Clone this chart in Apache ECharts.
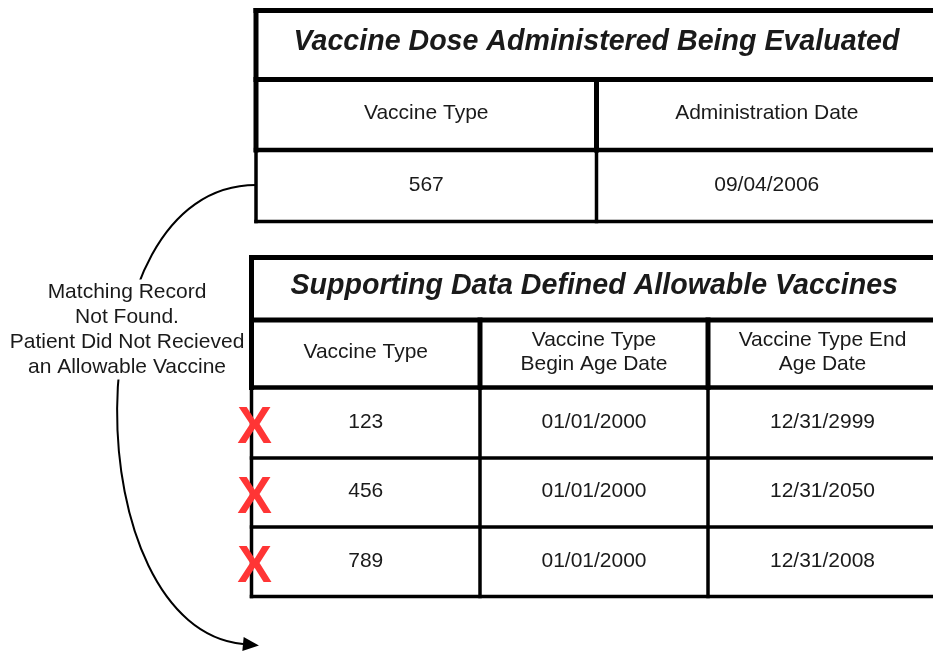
<!DOCTYPE html>
<html>
<head>
<meta charset="utf-8">
<title>Vaccine Dose Evaluation</title>
<script src="https://cdn.jsdelivr.net/npm/echarts@6/dist/echarts.min.js"></script>
<style>
html, body { margin: 0; padding: 0; background: #fff; }
#main { width: 933px; height: 652px; }
</style>
</head>
<body>
<div id="main"></div>
<script>
// ---- table contents ----
var doseTitle = 'Vaccine Dose Administered Being Evaluated';
var doseHeaders = ['Vaccine Type', 'Administration Date'];
var doseValues = ['567', '09/04/2006'];

var allowTitle = 'Supporting Data Defined Allowable Vaccines';
var allowHeaders = ['Vaccine Type', 'Vaccine Type\nBegin Age Date', 'Vaccine Type End\nAge Date'];
var vaccineTypes = ['123', '456', '789'];
var beginDates = ['01/01/2000', '01/01/2000', '01/01/2000'];
var endDates = ['12/31/2999', '12/31/2050', '12/31/2008'];
var matched = [false, false, false];

var noteText = 'Matching Record\nNot Found.\nPatient Did Not Recieved\nan Allowable Vaccine';

// ---- layout, in pixels of the 933x652 canvas ----
var doseCols = [256, 596.5, 937];
var doseRowsY = [10.5, 79.5, 150, 221.5];
var allowCols = [251.5, 480, 708, 937];
var allowRowsY = [257.5, 320, 387.5, 458, 527, 596.5];
var notePos = [127, 329.5];
var curve = [[256, 185], [70, 185], [76, 628], [243, 644]];

var FONT = '"Liberation Sans", Arial, Helvetica, sans-serif';
var INK = '#1a1a1a';

var cells = [];   // text placed in the tables
var rules = [];   // [x1, y1, x2, y2, lineWidth]
var marks = [];   // red X next to rows that did not match

function mid(a, b) { return (a + b) / 2; }

function addTable(cols, rowsY, title, headers, rows) {
    var left = cols[0], right = cols[cols.length - 1];
    var bottom = rowsY[rowsY.length - 1];
    var c, r;
    cells.push({x: mid(left, right), y: mid(rowsY[0], rowsY[1]) - 3, text: title, kind: 'title'});
    for (c = 0; c < headers.length; c++) {
        cells.push({x: mid(cols[c], cols[c + 1]), y: mid(rowsY[1], rowsY[2]) - 1.5, text: headers[c], kind: 'head'});
    }
    for (r = 0; r < rows.length; r++) {
        for (c = 0; c < rows[r].length; c++) {
            cells.push({x: mid(cols[c], cols[c + 1]), y: mid(rowsY[r + 2], rowsY[r + 3]) - 1, text: rows[r][c], kind: 'cell'});
        }
    }
    // heavy frame round title + header
    rules.push([left, rowsY[0], right, rowsY[0], 5]);
    rules.push([left, rowsY[1], right, rowsY[1], 5]);
    rules.push([left, rowsY[2], right, rowsY[2], 4.5]);
    rules.push([left, rowsY[0], left, rowsY[2], 5]);
    rules.push([right, rowsY[0], right, rowsY[2], 5]);
    for (c = 1; c < cols.length - 1; c++) {
        rules.push([cols[c], rowsY[1], cols[c], rowsY[2], 5]);
    }
    // lighter grid for the data rows
    for (r = 3; r < rowsY.length; r++) {
        rules.push([left, rowsY[r], right, rowsY[r], 3.5]);
    }
    for (c = 0; c < cols.length; c++) {
        rules.push([cols[c], rowsY[2], cols[c], bottom, 3.5]);
    }
}

addTable(doseCols, doseRowsY, doseTitle, doseHeaders, [doseValues]);

var allowRows = [];
for (var i = 0; i < vaccineTypes.length; i++) {
    allowRows.push([vaccineTypes[i], beginDates[i], endDates[i]]);
    if (!matched[i]) {
        marks.push([allowCols[0] + 3, mid(allowRowsY[i + 2], allowRowsY[i + 3]) + 6]);
    }
}
addTable(allowCols, allowRowsY, allowTitle, allowHeaders, allowRows);

var chart = echarts.init(document.getElementById('main'));

function renderRule(params, api) {
    var a = api.coord([api.value(0), api.value(1)]);
    var b = api.coord([api.value(2), api.value(3)]);
    return {
        type: 'line',
        shape: {x1: a[0], y1: a[1], x2: b[0], y2: b[1]},
        style: {stroke: '#000', lineWidth: api.value(4), lineCap: 'square'}
    };
}

function renderCell(params, api) {
    var cell = cells[params.dataIndex];
    var p = api.coord([api.value(0), api.value(1)]);
    var isTitle = cell.kind === 'title';
    return {
        type: 'text',
        x: p[0],
        y: p[1],
        style: {
            text: cell.text,
            fill: INK,
            fontFamily: FONT,
            fontSize: isTitle ? 28.6 : 21,
            fontWeight: isTitle ? 'bold' : 'normal',
            fontStyle: isTitle ? 'italic' : 'normal',
            lineHeight: 24,
            align: 'center',
            verticalAlign: 'middle'
        }
    };
}

function renderMark(params, api) {
    var p = api.coord([api.value(0), api.value(1)]);
    return {
        type: 'text',
        x: p[0],
        y: p[1],
        style: {
            text: 'X',
            fill: '#ff3535',
            fontFamily: FONT,
            fontSize: 52,
            fontWeight: 'bold',
            align: 'center',
            verticalAlign: 'middle'
        }
    };
}

function renderConnector(params, api) {
    var p0 = api.coord(curve[0]), p1 = api.coord(curve[1]);
    var p2 = api.coord(curve[2]), p3 = api.coord(curve[3]);
    // arrow head continues the curve's final direction
    var dx = p3[0] - p2[0], dy = p3[1] - p2[1];
    var len = Math.sqrt(dx * dx + dy * dy);
    var ux = dx / len, uy = dy / len;
    var tip = [p3[0] + ux * 16, p3[1] + uy * 16];
    var w = 7;
    return {
        type: 'group',
        children: [{
            type: 'bezierCurve',
            shape: {x1: p0[0], y1: p0[1], cpx1: p1[0], cpy1: p1[1], cpx2: p2[0], cpy2: p2[1], x2: p3[0], y2: p3[1]},
            style: {stroke: '#000', lineWidth: 2, fill: null}
        }, {
            type: 'polygon',
            shape: {points: [tip, [p3[0] - uy * w, p3[1] + ux * w], [p3[0] + uy * w, p3[1] - ux * w]]},
            style: {fill: '#000'}
        }]
    };
}

function renderNote(params, api) {
    var p = api.coord([api.value(0), api.value(1)]);
    return {
        type: 'text',
        x: p[0],
        y: p[1],
        style: {
            text: noteText,
            fill: INK,
            fontFamily: FONT,
            fontSize: 21,
            lineHeight: 25,
            align: 'center',
            verticalAlign: 'middle',
            backgroundColor: '#fff'
        }
    };
}

var option = {
    animation: false,
    backgroundColor: '#fff',
    grid: {left: 0, right: 0, top: 0, bottom: 0},
    xAxis: {type: 'value', min: 0, max: 933, show: false},
    yAxis: {type: 'value', min: 0, max: 652, inverse: true, show: false},
    series: [{
        type: 'custom', name: 'connector', z: 1,
        data: [curve[0]],
        renderItem: renderConnector
    }, {
        type: 'custom', name: 'note', z: 2,
        data: [notePos],
        renderItem: renderNote
    }, {
        type: 'custom', name: 'rules', z: 3,
        data: rules,
        renderItem: renderRule
    }, {
        type: 'custom', name: 'cells', z: 4,
        data: cells.map(function (c) { return [c.x, c.y]; }),
        renderItem: renderCell
    }, {
        type: 'custom', name: 'marks', z: 5,
        data: marks,
        renderItem: renderMark
    }]
};
chart.setOption(option);
</script>
</body>
</html>
